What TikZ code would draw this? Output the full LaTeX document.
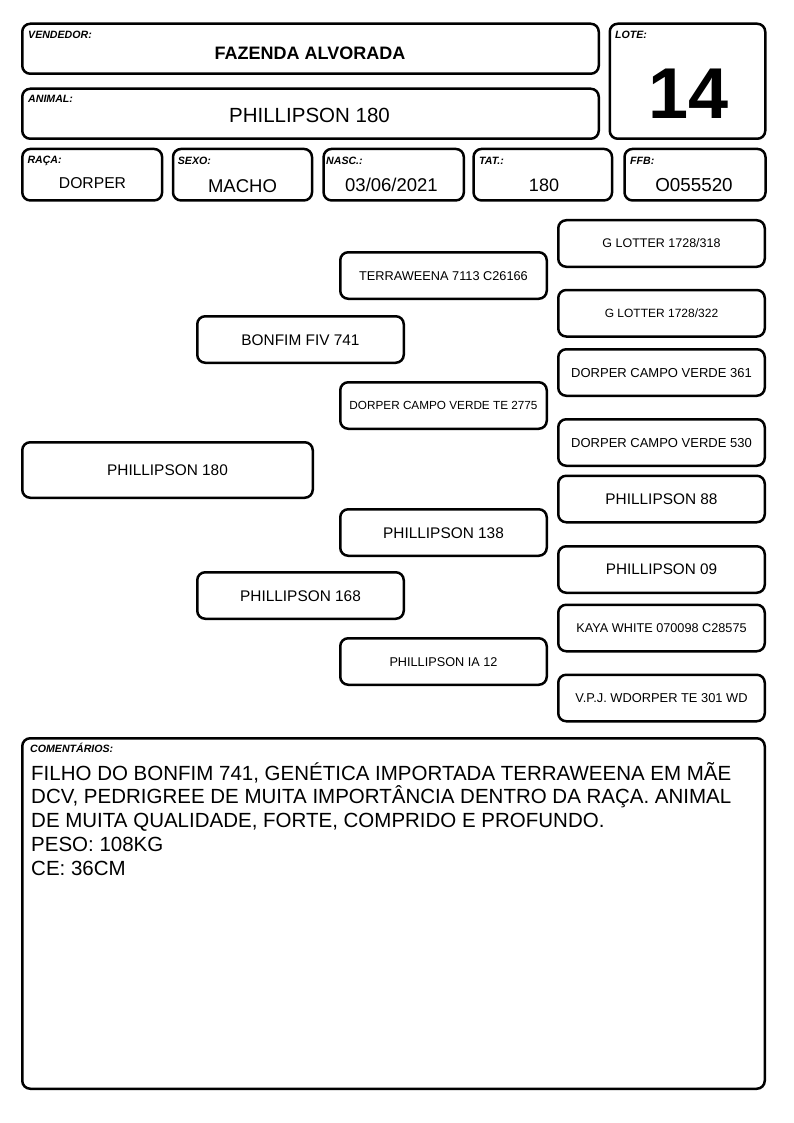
\documentclass[tikz,border=0pt]{standalone}
\usepackage{fontspec}
\setmainfont{Liberation Sans}
\begin{document}
\begin{tikzpicture}[x=1pt,y=-1pt,
  fsz/.code={\pgfmathsetmacro\tmph{0.716*#1}\tikzset{font=\fontsize{#1}{#1}\selectfont, text height=\tmph pt, text depth=0pt}},
  box/.style={draw, line width=2.5pt, rounded corners=8pt, inner sep=0pt},
  ped/.style={box, minimum width=206.5pt, minimum height=46.5pt},
  lbl/.style={anchor=base west, inner sep=0pt, font=\fontsize{10.6}{10.6}\selectfont\bfseries\itshape},
  val/.style={anchor=base, inner sep=0pt, font=\fontsize{#1}{#1}\selectfont},
  com/.style={anchor=base west, inner sep=0pt, font=\fontsize{20.5}{24}\selectfont}]
\useasboundingbox (0,0) rectangle (794,1123);
% header boxes
\node[box, minimum width=576.5pt, minimum height=50pt] (vend) at (310.5,48.75) {};
\node[box, minimum width=576.5pt, minimum height=50pt] (anim) at (310.5,113.75) {};
\node[box, minimum width=155.5pt, minimum height=115pt] (lote) at (687.5,81.25) {};
\node[box, minimum width=139.8pt, minimum height=51.5pt] (raca) at (92.2,174.7) {};
\node[box, minimum width=139pt, minimum height=51.5pt] (sexo) at (242.5,174.7) {};
\node[box, minimum width=140.2pt, minimum height=51.5pt] (nasc) at (393.7,174.7) {};
\node[box, minimum width=138.5pt, minimum height=51.5pt] (tat) at (542.8,174.7) {};
\node[box, minimum width=141pt, minimum height=51.5pt] (ffb) at (695,174.7) {};
\node[box, minimum width=742.5pt, minimum height=350.5pt] (com) at (393.5,913.5) {};
% labels
\node[lbl] (lvend) at (28,39) {VENDEDOR:};
\node[lbl] (lanim) at (28,102.3) {ANIMAL:};
\node[lbl] (llote) at (615,38.3) {LOTE:};
\node[lbl] (lraca) at (27.3,163.3) {RAÇA:};
\node[lbl] (lsexo) at (177.7,165) {SEXO:};
\node[lbl] (lnasc) at (326,165) {NASC.:};
\node[lbl] (ltat) at (479,165) {TAT.:};
\node[lbl] (lffb) at (630,165) {FFB:};
\node[lbl] (lcom) at (30,752.7) {COMENTÁRIOS:};
% values
\node[val=18, font=\fontsize{18}{18}\selectfont\bfseries] (vvend) at (310,59.3) {FAZENDA ALVORADA};
\node[val=20.5] (vanim) at (309.5,122.3) {PHILLIPSON 180};
\node[val=72, font=\fontsize{72}{72}\selectfont\bfseries] (vlote) at (688.5,118.3) {14};
\node[val=15.7] (vraca) at (92.5,188.3) {DORPER};
\node[val=18.5] (vsexo) at (242.5,192.3) {MACHO};
\node[val=18.5] (vnasc) at (391.5,192) {03/06/2021};
\node[val=18] (vtat) at (544,191.7) {180};
\node[val=18.8] (vffb) at (694,191.7) {O055520};
% pedigree
\node[box, minimum width=290.5pt, minimum height=55.5pt, fsz=15.4] (p0) at (167.5,470) {PHILLIPSON 180};
\node[ped, fsz=15.4] (s) at (300.5,339.5) {BONFIM FIV 741};
\node[ped, fsz=15.4] (d) at (300.5,595.5) {PHILLIPSON 168};
\node[ped, fsz=12.75] (ss) at (443.5,275.5) {TERRAWEENA 7113 C26166};
\node[ped, fsz=11.75] (sd) at (443.5,405.5) {DORPER CAMPO VERDE TE 2775};
\node[ped, fsz=15.4] (ds) at (443.5,532.5) {PHILLIPSON 138};
\node[ped, fsz=12.7] (dd) at (443.5,661.5) {PHILLIPSON IA 12};
\node[ped, fsz=12.5] (sss) at (661.5,243.5) {G LOTTER 1728/318};
\node[ped, fsz=12] (ssd) at (661.5,313.25) {G LOTTER 1728/322};
\node[ped, fsz=13] (sds) at (661.5,372.5) {DORPER CAMPO VERDE 361};
\node[ped, fsz=13] (sdd) at (661.5,442.5) {DORPER CAMPO VERDE 530};
\node[ped, fsz=15.4] (dss) at (661.5,499) {PHILLIPSON 88};
\node[ped, fsz=15.3] (dsd) at (661.5,569.5) {PHILLIPSON 09};
\node[ped, fsz=12.7] (dds) at (661.5,628) {KAYA WHITE 070098 C28575};
\node[ped, fsz=12.85] (ddd) at (661.5,698) {V.P.J. WDORPER TE 301 WD};
% comments
\node[com] (c1) at (31,780) {FILHO DO BONFIM 741, GENÉTICA IMPORTADA TERRAWEENA EM MÃE};
\node[com] (c2) at (31,803.5) {DCV, PEDRIGREE DE MUITA IMPORTÂNCIA DENTRO DA RAÇA. ANIMAL};
\node[com] (c3) at (31,827) {DE MUITA QUALIDADE, FORTE, COMPRIDO E PROFUNDO.};
\node[com] (c4) at (31,851) {PESO: 108KG};
\node[com] (c5) at (31,875) {CE: 36CM};
\end{tikzpicture}
\end{document}
